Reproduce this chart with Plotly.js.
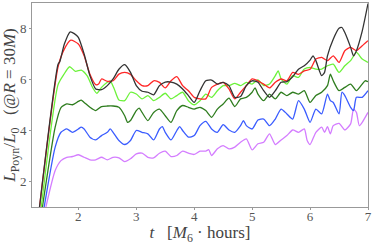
<!DOCTYPE html>
<html>
<head>
<meta charset="utf-8">
<script src="https://cdn.plot.ly/plotly-3.0.1.min.js"></script>
<style>html,body{margin:0;padding:0;background:#fff;}#chart{width:374px;height:245px;}</style>
</head>
<body>
<div id="chart"></div>
<script>
const tBlack = [1.33,1.65,1.68,1.76,1.86,1.93,2.0,2.1,2.2,2.3,2.4,2.5,2.6,2.7,2.8,2.9,3.0,3.1,3.2,3.3,3.4,3.5,3.6,3.7,3.8,3.9,4.0,4.1,4.2,4.3,4.4,4.5,4.6,4.7,4.8,4.9,5.0,5.1,5.2,5.3,5.4,5.5,5.6,5.7,5.8,5.9,6.0,6.05,6.1,6.2,6.25,6.3,6.4,6.5,6.55,6.6,6.7,6.75,6.8,6.9,7.0];
const vBlack = [1.0,6.6,6.7,7.4,7.87,7.8,7.65,7.0,6.15,5.63,5.6,5.76,6.02,6.4,6.58,6.28,5.76,5.54,5.5,5.4,5.76,5.9,5.9,5.82,5.63,5.37,5.1,5.56,5.95,5.98,5.82,5.89,5.76,5.3,5.33,5.76,5.95,5.89,5.56,5.3,5.56,5.89,5.92,6.11,6.4,6.54,6.76,6.93,6.74,6.15,6.28,6.93,7.58,8.01,8.04,7.84,7.26,6.93,7.13,7.9,8.98];
const tRed = [1.33,1.65,1.76,1.87,2.0,2.1,2.2,2.3,2.35,2.4,2.5,2.6,2.7,2.8,2.9,3.0,3.1,3.2,3.3,3.4,3.5,3.6,3.7,3.8,3.9,4.0,4.1,4.2,4.3,4.4,4.5,4.6,4.7,4.8,4.9,5.0,5.1,5.2,5.3,5.4,5.5,5.6,5.7,5.8,5.9,6.0,6.1,6.2,6.3,6.4,6.5,6.6,6.7,6.8,6.9,7.0];
const vRed = [1.0,6.5,7.2,7.54,7.39,6.93,6.21,5.8,5.82,6.02,5.93,5.95,6.21,6.28,6.2,5.95,5.76,5.76,5.95,5.89,5.67,5.95,6.11,5.76,5.56,5.3,5.24,5.24,5.69,5.82,5.89,5.63,5.24,5.5,5.76,6.02,5.95,5.82,5.67,5.89,6.02,5.95,6.28,6.2,6.34,6.4,6.8,6.87,6.74,6.93,6.67,7.13,7.26,7.13,7.32,7.52];
const tGreen = [1.36,1.65,1.75,1.85,1.95,2.05,2.15,2.25,2.32,2.4,2.5,2.55,2.62,2.7,2.8,2.9,3.0,3.1,3.2,3.3,3.4,3.5,3.6,3.7,3.8,3.9,4.0,4.1,4.2,4.3,4.4,4.5,4.6,4.7,4.8,4.9,5.0,5.1,5.2,5.3,5.4,5.45,5.5,5.6,5.7,5.8,5.9,6.0,6.1,6.2,6.3,6.4,6.5,6.6,6.7,6.8,6.9,7.0];
const vGreen = [1.0,5.8,6.2,6.5,6.32,6.37,6.15,5.67,5.46,5.69,5.89,5.95,5.63,5.2,5.17,5.5,5.43,5.24,5.37,5.17,5.3,5.46,5.24,5.37,5.5,5.17,5.01,5.17,5.43,5.3,5.56,5.76,5.76,5.85,5.76,5.89,5.82,5.98,5.76,5.82,6.15,6.34,6.02,5.82,6.15,6.08,6.41,6.47,6.41,6.41,6.54,6.6,6.28,6.54,6.74,7.06,6.8,6.67];
const tDkGreen = [1.38,1.6,1.7,1.8,1.9,2.0,2.05,2.1,2.2,2.3,2.4,2.5,2.6,2.7,2.8,2.85,2.9,3.0,3.05,3.1,3.2,3.3,3.4,3.5,3.6,3.7,3.8,3.9,4.0,4.1,4.2,4.3,4.4,4.5,4.6,4.7,4.8,4.9,5.0,5.05,5.1,5.2,5.3,5.4,5.5,5.6,5.7,5.8,5.9,6.0,6.1,6.2,6.3,6.35,6.4,6.5,6.6,6.7,6.8,6.9,6.95,7.0];
const vDkGreen = [1.0,4.13,4.9,5.04,5.01,5.14,5.19,5.1,4.91,4.78,4.94,4.96,4.96,4.91,4.58,4.32,4.39,4.78,4.88,4.71,4.39,4.71,4.84,4.58,4.32,4.78,4.98,4.91,4.84,4.91,4.78,4.52,4.84,5.04,5.27,4.94,5.24,5.3,5.5,5.67,5.43,5.17,5.43,5.24,5.5,5.37,5.5,5.43,5.56,5.1,5.37,5.5,5.76,6.21,5.95,5.56,5.69,5.82,5.56,5.82,5.95,5.91];
const tBlue = [1.41,1.6,1.7,1.8,1.9,2.0,2.05,2.1,2.2,2.3,2.4,2.5,2.55,2.6,2.7,2.8,2.9,3.0,3.1,3.2,3.3,3.4,3.45,3.5,3.6,3.7,3.75,3.8,3.9,4.0,4.1,4.2,4.3,4.4,4.5,4.6,4.7,4.8,4.85,4.9,5.0,5.1,5.2,5.3,5.4,5.5,5.6,5.7,5.8,5.9,6.0,6.1,6.2,6.3,6.35,6.4,6.5,6.55,6.6,6.7,6.75,6.8,6.9,7.0];
const vBlue = [1.0,3.35,3.93,4.06,3.93,4.06,4.13,4.06,3.74,3.63,3.8,3.93,4.06,3.93,3.61,3.45,3.61,4.0,3.93,3.87,3.63,4.06,4.15,3.93,3.63,4.0,4.15,4.0,3.74,3.8,4.19,4.36,4.06,3.93,4.23,4.02,3.93,4.19,4.39,4.19,4.06,4.41,4.45,4.19,4.45,4.84,4.65,4.45,5.17,4.84,4.32,4.84,4.65,5.43,5.17,5.1,4.65,5.5,5.37,4.91,4.78,5.3,5.3,5.56];
const tPink = [1.44,1.6,1.7,1.8,1.9,2.0,2.1,2.2,2.3,2.4,2.5,2.6,2.7,2.8,2.9,3.0,3.1,3.2,3.3,3.4,3.5,3.6,3.7,3.8,3.9,4.0,4.1,4.2,4.25,4.3,4.4,4.5,4.6,4.7,4.8,4.9,5.0,5.1,5.2,5.3,5.4,5.5,5.6,5.7,5.8,5.9,5.95,6.0,6.1,6.2,6.25,6.3,6.35,6.4,6.5,6.6,6.7,6.75,6.8,6.85,6.9,7.0];
const vPink = [1.0,2.43,2.82,2.95,2.98,3.05,2.95,2.85,2.85,2.95,2.85,2.95,2.93,2.78,2.89,3.08,3.11,2.95,2.93,3.11,3.19,2.98,3.02,3.19,3.11,3.06,3.19,3.19,3.25,3.02,3.28,3.41,3.28,3.35,3.54,3.67,3.24,3.48,3.54,3.87,3.45,3.63,3.8,4.02,3.93,4.06,3.61,3.45,3.93,4.13,3.93,4.15,3.87,4.19,4.28,4.02,4.26,4.84,4.71,4.19,4.32,4.71];

const xTicks = [2,3,4,5,6,7];
const yTicks = [2,4,6,8];

function tr(x, y, color) {
  return {x: x, y: y, type: 'scatter', mode: 'lines',
    line: {color: color, width: 1.3, shape: 'spline', smoothing: 0.6},
    hoverinfo: 'skip', showlegend: false};
}

const data = [
  tr(tPink, vPink, '#d47dff'),
  tr(tBlue, vBlue, '#3a5cff'),
  tr(tDkGreen, vDkGreen, '#2f7d1f'),
  tr(tGreen, vGreen, '#6cf23a'),
  tr(tRed, vRed, '#ff2626'),
  tr(tBlack, vBlack, '#333333')
];

const fam = 'Liberation Serif, DejaVu Serif, serif';

const layout = {
  width: 374, height: 245,
  margin: {l: 32, r: 6, t: 3, b: 38},
  paper_bgcolor: '#fff', plot_bgcolor: '#fff',
  font: {family: fam, color: '#444', size: 13},
  xaxis: {
    range: [1.2, 7.0], tickvals: xTicks, ticktext: xTicks.map(String),
    showgrid: false, zeroline: false, showline: true, mirror: true,
    linecolor: '#999', linewidth: 1, ticks: 'outside', ticklen: 2, tickcolor: '#999',
    ticklabelstandoff: -5,
    tickfont: {family: fam, size: 13, color: '#555'},
    title: {text: '<i>t</i>   [<i>M</i><sub>6</sub> · hours]', standoff: 12,
      font: {family: fam, size: 17, color: '#444'}}
  },
  yaxis: {
    range: [1, 9], tickvals: yTicks, ticktext: yTicks.map(String),
    showgrid: false, zeroline: false, showline: true, mirror: true,
    linecolor: '#999', linewidth: 1, ticks: 'outside', ticklen: 2, tickcolor: '#999',
    tickfont: {family: fam, size: 13, color: '#555'},
    title: {text: '<i>L</i><sub>Poyn</sub>/<i>L</i><sub>0</sub>   (@<i>R</i> = 30<i>M</i>)', standoff: 5,
      font: {family: fam, size: 17, color: '#444'}}
  }
};

Plotly.newPlot('chart', data, layout, {displayModeBar: false, staticPlot: true});
</script>
</body>
</html>
